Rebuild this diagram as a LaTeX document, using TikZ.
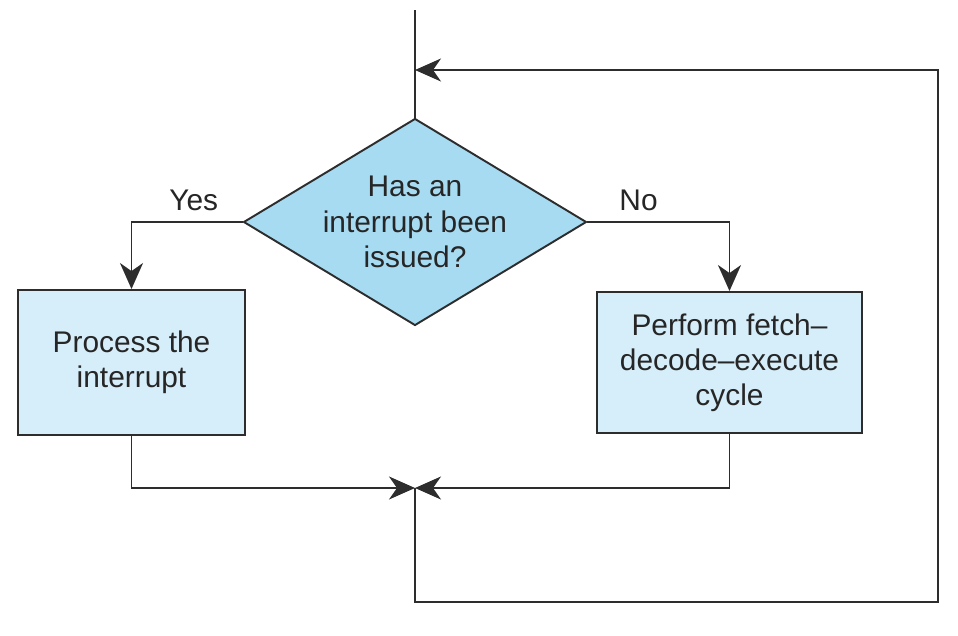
\documentclass[tikz,border=0pt]{standalone}
\usepackage{fontspec}
\setmainfont{Liberation Sans}
\usetikzlibrary{shapes.geometric,arrows.meta}

\definecolor{diamondblue}{RGB}{166,219,242}
\definecolor{boxblue}{RGB}{214,238,250}
\definecolor{linegray}{RGB}{45,45,45}

\begin{document}
\begin{tikzpicture}[x=0.02cm, y=-0.02cm,
    >={Stealth[length=5.2mm, width=4.6mm, inset=1.6mm]},
    line width=1.1pt, draw=linegray,
    every node/.style={font=\fontsize{17}{20}\selectfont, text=black!85},
    stepbox/.style={draw=linegray, fill=boxblue, rectangle, align=center, inner sep=0pt},
    label/.style={above=6pt, inner sep=0pt}]
    \useasboundingbox (0,0) rectangle (958,636);

    % Decision diamond
    \node[draw=linegray, fill=diamondblue, diamond, aspect=1.657, inner sep=0pt,
          minimum width=6.86cm, minimum height=4.14cm, align=center] (dec) at (415,222)
        {Has an\\interrupt been\\issued?};

    % Process boxes
    \node[stepbox, minimum width=4.54cm, minimum height=2.9cm] (proc) at (131.5,362.5)
        {Process the\\interrupt};
    \node[stepbox, minimum width=5.3cm, minimum height=2.82cm] (fde) at (729.5,362.5)
        {Perform fetch--\\decode--execute\\cycle};

    % Loop points
    \coordinate (start) at (415,10);
    \coordinate (merge) at (415,488);
    \coordinate (ret) at (938,602);
    \coordinate (entry) at (415,70);

    % Entry line
    \draw[linegray] (start) -- (dec.north);

    % Branches
    \draw[->, linegray] (dec.west) -| node[label, pos=0.22] {Yes} (proc.north);
    \draw[->, linegray] (dec.east) -| node[label, pos=0.18] {No} (fde.north);

    % Back to the merge point
    \draw[->, linegray] (proc.south) |- (merge);
    \draw[->, linegray] (fde.south) |- (merge);

    % Return loop
    \draw[->, linegray] (merge) |- (ret) |- (entry);
\end{tikzpicture}
\end{document}
